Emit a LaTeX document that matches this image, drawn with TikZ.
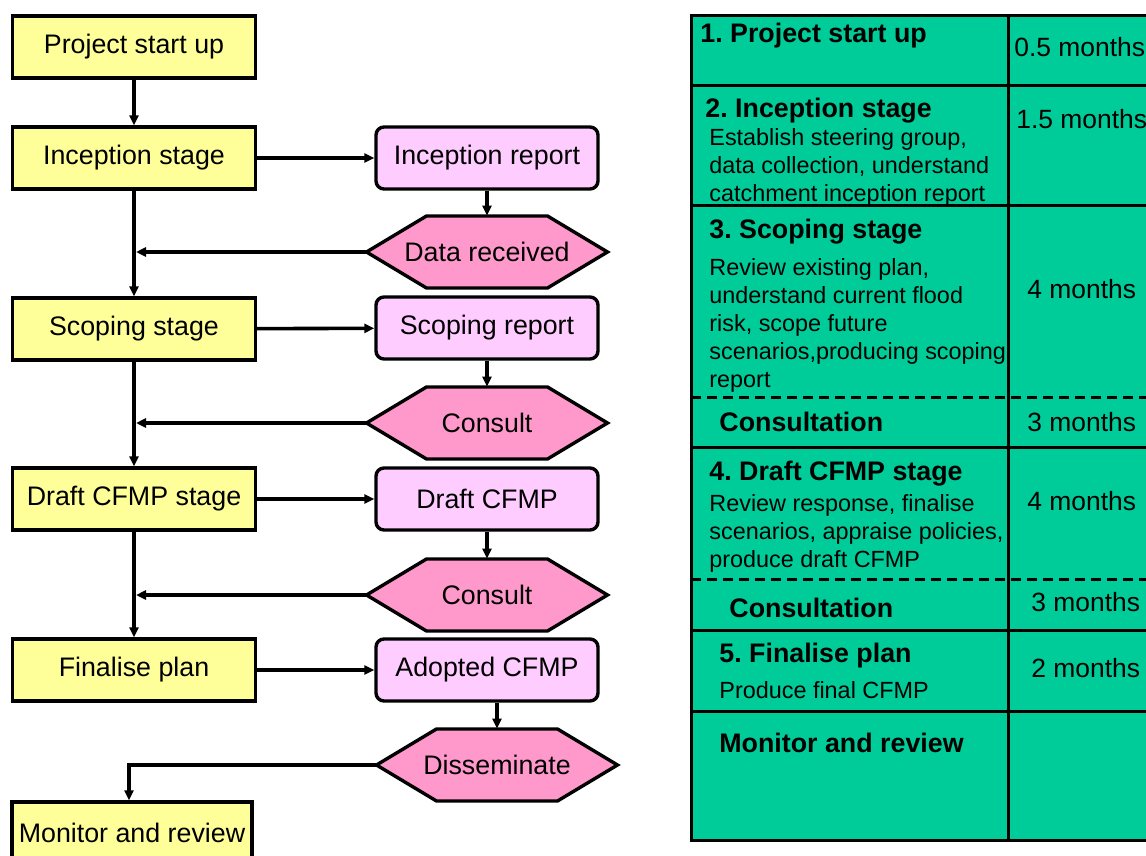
\documentclass[tikz,border=0pt]{standalone}
\usepackage{fontspec}
\setmainfont{Liberation Sans}
\frenchspacing
\usetikzlibrary{arrows.meta}
\definecolor{stageyellow}{HTML}{FFFF99}
\definecolor{reportpink}{HTML}{FFCCFF}
\definecolor{hexpink}{HTML}{FF99CC}
\definecolor{tablegreen}{HTML}{00CC99}
\tikzset{
  stage/.style={draw, line width=1.7pt, fill=stageyellow, minimum width=121.5pt, minimum height=31pt, inner sep=0pt, font=\fontsize{13.4}{16}\selectfont},
  report/.style={stage, fill=reportpink, rounded corners=4pt, minimum width=111pt},
  hexframe/.style={draw, line width=1.7pt, fill=hexpink},
  hexa/.style={minimum height=36pt, inner sep=0pt, font=\fontsize{13.4}{16}\selectfont},
  flow/.style={line width=1.8pt, -{Triangle[width=4.5pt,length=5pt]}},
  head/.style={anchor=base west, inner sep=0pt, font=\bfseries\fontsize{13.4}{16}\selectfont},
  body/.style={anchor=base west, inner sep=0pt, align=left, font=\fontsize{11.7}{14}\selectfont},
  months/.style={anchor=base west, inner sep=0pt, font=\fontsize{13.2}{16}\selectfont}
}
% hexagon: frame first, then the named text node, plus its left tip
\newcommand{\hexnode}[3]{%
  \filldraw[hexframe] (#2) ++(-60.25pt,0) -- ++(30pt,18pt) -- ++(60.5pt,0) -- ++(30pt,-18pt)
    -- ++(-30pt,-18pt) -- ++(-60.5pt,0) -- cycle;
  \node[hexa] (#1) at (#2) {#3};
  \coordinate (#1tip) at ([xshift=-60.25pt]#1.center);}
\begin{document}
\begin{tikzpicture}[x=0.5pt, y=-0.5pt]
  \useasboundingbox (0,0) rectangle (1146,856);
  % flow chart
  \node[stage] (start) at (134,47) {Project start up};
  \node[stage] (incep) at (134,158) {Inception stage};
  \node[stage] (scope) at (134,329) {Scoping stage};
  \node[stage] (draft) at (134,499) {Draft CFMP stage};
  \node[stage] (final) at (134,670) {Finalise plan};
  \node[stage, minimum width=120pt] (monitor) at (132,833) {Monitor and review};
  \node[report] (increp) at (487,158) {Inception report};
  \node[report] (scoperep) at (487,328) {Scoping report};
  \node[report] (draftrep) at (487,499) {Draft CFMP};
  \node[report] (adopted) at (487,670) {Adopted CFMP};
  \hexnode{datarec}{487,252}{Data received}
  \hexnode{consultA}{487,423}{Consult}
  \hexnode{consultB}{487,595}{Consult}
  \hexnode{dissem}{497,765}{Disseminate}
  \draw[flow] (start) -- (incep);
  \draw[flow] (incep) -- (scope);
  \draw[flow] (scope) -- (draft);
  \draw[flow] (draft) -- (final);
  \draw[flow] (incep) -- (increp);
  \draw[flow] (scope) -- (scoperep);
  \draw[flow] (draft) -- (draftrep);
  \draw[flow] (final) -- (adopted);
  \draw[flow] (increp) -- (datarec);
  \draw[flow] (scoperep) -- (consultA);
  \draw[flow] (draftrep) -- (consultB);
  \draw[flow] ([xshift=5pt]adopted.south) -- (dissem.north);
  \draw[flow, shorten >=1pt] (datarectip) -- (datarectip -| incep.south);
  \draw[flow, shorten >=1pt] (consultAtip) -- (consultAtip -| scope.south);
  \draw[flow, shorten >=1pt] (consultBtip) -- (consultBtip -| draft.south);
  \draw[flow] (dissemtip) -| ([xshift=-1.5pt]monitor.north);
  % timetable
  \fill[tablegreen] (691,16) rectangle (1146,840);
  \draw[line width=1.5pt] (1146,16) -- (691,16) -- (691,840) -- (1146,840);
  \draw[line width=1.5pt] (1008,16) -- (1008,840);
  \foreach \y in {86,205,447,630,711}
    \draw[line width=1.5pt] (691,\y) -- (1146,\y);
  \foreach \y in {397,579}
    \draw[line width=1.5pt, dash pattern=on 5pt off 3pt] (691,\y) -- (1146,\y);
  \node[head] (h1) at (700,43) {1. Project start up};
  \node[head] (h2) at (705,118) {2. Inception stage};
  \node[body] (b2) at (709,201) {Establish steering group,\\data collection, understand\\catchment inception report};
  \node[head] (h3) at (709,238) {3. Scoping stage};
  \node[body] (b3) at (709,387) {Review existing plan,\\understand current flood\\risk, scope future\\scenarios,producing scoping\\report};
  \node[head] (c1) at (719,431) {Consultation};
  \node[head] (h4) at (709,480) {4. Draft CFMP stage};
  \node[body] (b4) at (709,567) {Review response, finalise\\scenarios, appraise policies,\\produce draft CFMP};
  \node[head] (c2) at (729,617) {Consultation};
  \node[head] (h5) at (719,662) {5. Finalise plan};
  \node[body] (b5) at (719,698) {Produce final CFMP};
  \node[head] (h6) at (719,752) {Monitor and review};
  \node[months] (m1) at (1014,57) {0.5 months};
  \node[months] (m2) at (1016,128) {1.5 months};
  \node[months] (m3) at (1027,298) {4 months};
  \node[months] (m4) at (1027,431) {3 months};
  \node[months] (m5) at (1027,510) {4 months};
  \node[months] (m6) at (1031,611) {3 months};
  \node[months] (m7) at (1031,677) {2 months};
\end{tikzpicture}
\end{document}
